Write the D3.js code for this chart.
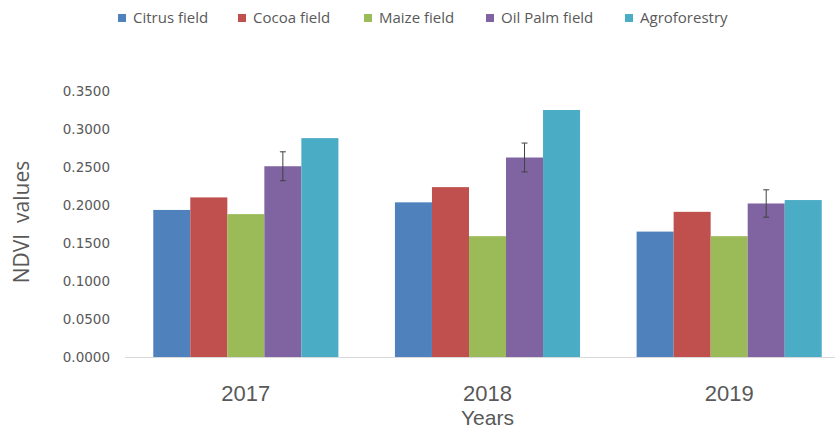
<html>
<head>
<script src="https://d3js.org/d3.v7.min.js"></script>
<style>
  body { margin: 0; background: #fff; }
  text { fill: #595959; }
</style>
</head>
<body>
<div id="chart"></div>
<script>
// data
const years = ['2017', '2018', '2019'];
const seriesNames = ['Citrus field', 'Cocoa field', 'Maize field', 'Oil Palm field', 'Agroforestry'];
const citrus = [0.1935, 0.2035, 0.1650];
const cocoa = [0.2100, 0.2235, 0.1910];
const maize = [0.1880, 0.1590, 0.1590];
const oilPalm = [0.2510, 0.2625, 0.2020];
const agro = [0.2880, 0.3250, 0.2065];
const oilPalmErr = [0.019, 0.019, 0.018];
const yTicks = [0, 0.05, 0.1, 0.15, 0.2, 0.25, 0.3, 0.35];
const colors = ['#4F81BD', '#C0504D', '#9BBB59', '#8064A2', '#4BACC6'];

const values = [citrus, cocoa, maize, oilPalm, agro];

const w = 835, h = 431;
const plotLeft = 125, plotRight = 850, plotTop = 91, plotBottom = 357;

const svg = d3.select('#chart').append('svg')
  .attr('width', w).attr('height', h);

const x0 = d3.scaleBand().domain(years).range([plotLeft, plotRight])
  .paddingInner(0.234).paddingOuter(0.117);
const x1 = d3.scaleBand().domain(seriesNames).range([0, x0.bandwidth()]);
const y = d3.scaleLinear().domain([0, 0.35]).range([plotBottom, plotTop]);

// y axis labels
svg.append('g').selectAll('text')
  .data(yTicks).enter().append('text')
  .attr('x', 110)
  .attr('y', d => y(d))
  .attr('dy', '0.35em')
  .attr('text-anchor', 'end')
  .style('font-family', 'DejaVu Sans')
  .style('font-size', '13.5px')
  .text(d => d.toFixed(4));

// bars
const groups = svg.append('g').selectAll('g')
  .data(years).enter().append('g')
  .attr('transform', d => 'translate(' + x0(d) + ',0)');

groups.selectAll('rect')
  .data((d, i) => seriesNames.map((s, j) => ({ s: s, v: values[j][i], c: colors[j] })))
  .enter().append('rect')
  .attr('x', d => x1(d.s))
  .attr('width', x1.bandwidth())
  .attr('y', d => y(d.v))
  .attr('height', d => plotBottom - y(d.v))
  .attr('fill', d => d.c);

// error bars on oil palm
const err = svg.append('g').attr('stroke', '#404040').attr('stroke-width', 1);
years.forEach((yr, i) => {
  const cx = x0(yr) + x1('Oil Palm field') + x1.bandwidth() / 2;
  const hi = y(oilPalm[i] + oilPalmErr[i]), lo = y(oilPalm[i] - oilPalmErr[i]);
  err.append('line').attr('x1', cx).attr('x2', cx).attr('y1', hi).attr('y2', lo);
  err.append('line').attr('x1', cx - 3).attr('x2', cx + 3).attr('y1', hi).attr('y2', hi);
  err.append('line').attr('x1', cx - 3).attr('x2', cx + 3).attr('y1', lo).attr('y2', lo);
});

// x axis line
svg.append('line')
  .attr('x1', plotLeft).attr('x2', w)
  .attr('y1', plotBottom + 0.5).attr('y2', plotBottom + 0.5)
  .attr('stroke', '#d9d9d9').attr('stroke-width', 1);

// x tick labels
svg.append('g').selectAll('text')
  .data(years).enter().append('text')
  .attr('x', d => x0(d) + x0.bandwidth() / 2)
  .attr('y', 401)
  .attr('text-anchor', 'middle')
  .style('font-family', 'Liberation Sans')
  .style('font-size', '22px')
  .text(d => d);

// axis titles
svg.append('text')
  .attr('x', x0('2018') + x0.bandwidth() / 2)
  .attr('y', 425)
  .attr('text-anchor', 'middle')
  .style('font-family', 'Liberation Sans')
  .style('font-size', '21px')
  .text('Years');

svg.append('text')
  .attr('transform', 'translate(29,222) rotate(-90)')
  .attr('text-anchor', 'middle')
  .style('font-family', 'Open Sans')
  .style('font-size', '21px')
  .style('white-space', 'pre')
  .text('NDVI  values');

// legend
const legendX = [118, 238, 364, 486, 625];
const legend = svg.append('g').selectAll('g')
  .data(seriesNames).enter().append('g')
  .attr('transform', (d, i) => 'translate(' + legendX[i] + ',18)');
legend.append('rect')
  .attr('x', 0).attr('y', -4)
  .attr('width', 8).attr('height', 8)
  .attr('fill', (d, i) => colors[i]);
legend.append('text')
  .attr('x', 15)
  .attr('dy', '0.35em')
  .style('font-family', 'Open Sans')
  .style('font-size', '15px')
  .text(d => d);
</script>
</body>
</html>
